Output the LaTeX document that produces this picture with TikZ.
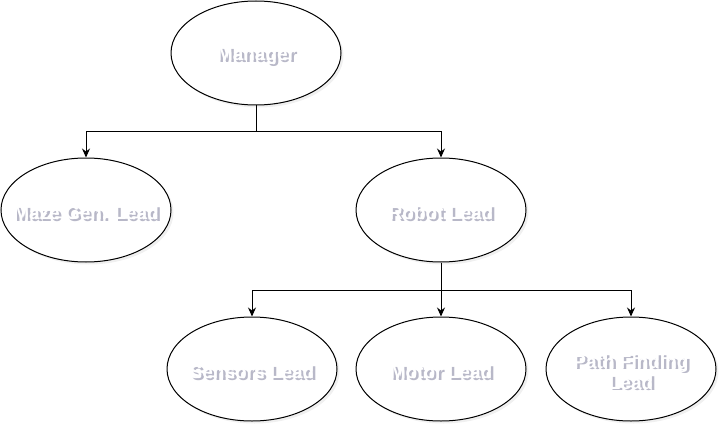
\documentclass[tikz,border=0pt]{standalone}
\usepackage{fontspec}
\setmainfont{Liberation Sans}
\usetikzlibrary{arrows.meta,shadows,shapes.geometric}
\definecolor{txtshadow}{RGB}{184,184,200}
\tikzset{
  ell/.style={draw=black, line width=1pt, ellipse, minimum width=170pt, minimum height=104pt, inner sep=0pt, fill=white,
    drop shadow={opacity=0.12, shadow xshift=2.5pt, shadow yshift=-2.5pt}},
  txt/.style={font=\fontsize{19}{21}\selectfont\bfseries, align=center, text=white, inner sep=0pt},
  arr/.style={line width=1pt, -{Stealth[length=9pt,width=8pt,inset=3pt]}},
  conn/.style={line width=1pt}
}
\newcommand{\shtxt}[2]{%
  \node[txt, text=txtshadow] at ([shift={(2.5pt,-4.5pt)}]#1) {#2};
  \node[txt] at ([shift={(0pt,-3pt)}]#1) {#2};
}
\begin{document}
\begin{tikzpicture}[x=1pt,y=-1pt]
\useasboundingbox (0,0) rectangle (727,433);
\node[ell] (m) at (256,53) {};
\node[ell] (mz) at (86,210) {};
\node[ell] (rl) at (441,210) {};
\node[ell] (sl) at (252,369) {};
\node[ell] (ml) at (441,369) {};
\node[ell] (pf) at (631,369) {};
\shtxt{m}{Manager}
\shtxt{mz}{Maze Gen. Lead}
\shtxt{rl}{Robot Lead}
\shtxt{sl}{Sensors Lead}
\shtxt{ml}{Motor Lead}
\shtxt{pf}{Path Finding\\Lead}
\coordinate (j1) at (256,131);
\coordinate (j2) at (441,290);
\draw[conn] (m.south) -- (j1);
\draw[arr] (j1) -| (mz.north);
\draw[arr] (j1) -| (rl.north);
\draw[arr] (rl.south) -- (ml.north);
\draw[arr] (j2) -| (sl.north);
\draw[arr] (j2) -| (pf.north);
\end{tikzpicture}
\end{document}
